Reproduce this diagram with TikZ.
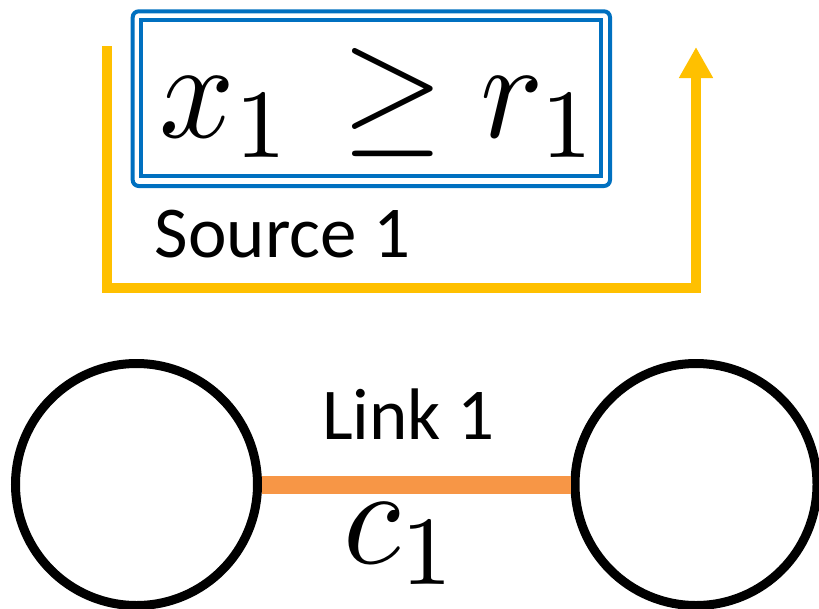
\documentclass[tikz,border=0pt]{standalone}
\usepackage{graphicx}
\usepackage{fontspec}
\setmainfont{Carlito}
\usetikzlibrary{arrows.meta}

\definecolor{boxblue}{HTML}{0070C0}
\definecolor{flowgold}{HTML}{FFC000}
\definecolor{linkorange}{HTML}{F79646}

% math set at 10pt and enlarged, so the Computer Modern shapes scale freely
\newcommand{\bigmath}[1]{\scalebox{13.2}[14]{\fontsize{10}{12}\selectfont$#1$}}

\tikzset{
  label text/.style={inner sep=0pt, font=\fontsize{73}{88}\selectfont},
  math text/.style={inner sep=0pt},
  outerframe/.style={draw=boxblue, line width=4pt, rounded corners=6pt, inner sep=0pt},
  innerframe/.style={draw=boxblue, line width=4pt, inner sep=0pt},
  router/.style={circle, draw=black, line width=9pt, minimum size=242pt, inner sep=0pt},
  linkbar/.style={draw=linkorange, line width=18pt},
  flowpath/.style={draw=flowgold, line width=10pt,
    -{Triangle[width=32pt, length=31pt]}}
}

\begin{document}
\begin{tikzpicture}[x=1pt, y=-1pt]
  \useasboundingbox (0,0) rectangle (819,608);

  % rate constraint of the source, in a double frame
  \node[outerframe, minimum width=477.3pt, minimum height=174.7pt] (frameout) at (371.35,98.65) {};
  \node[innerframe, minimum width=459.7pt, minimum height=155.7pt] (framein) at (371.15,98.15) {};
  \node[math text, anchor=base west] (constraint) at (159,137) {\bigmath{x_1\mkern1.5mu\geq r_1}};
  \node[label text, anchor=base west] (srclabel) at (154.5,257) {Source 1};

  % route taken by the source's flow
  \coordinate (flowstart) at (106.5,46);
  \coordinate (flowend) at (696,47);
  \coordinate (flowleft) at (106.5,288);
  \coordinate (flowright) at (696,288);
  \draw[flowpath] (flowstart) -- (flowleft) -- (flowright) -- (flowend);

  % two nodes joined by the link
  \node[router] (nodeA) at (136.5,484.5) {};
  \node[router] (nodeB) at (696,484.5) {};
  \draw[linkbar] (nodeA) -- (nodeB);
  \node[label text, anchor=base west] (linklabel) at (322,439) {Link 1};
  \node[math text, anchor=base west] (capacity) at (343,563) {\bigmath{c_1}};
\end{tikzpicture}
\end{document}
